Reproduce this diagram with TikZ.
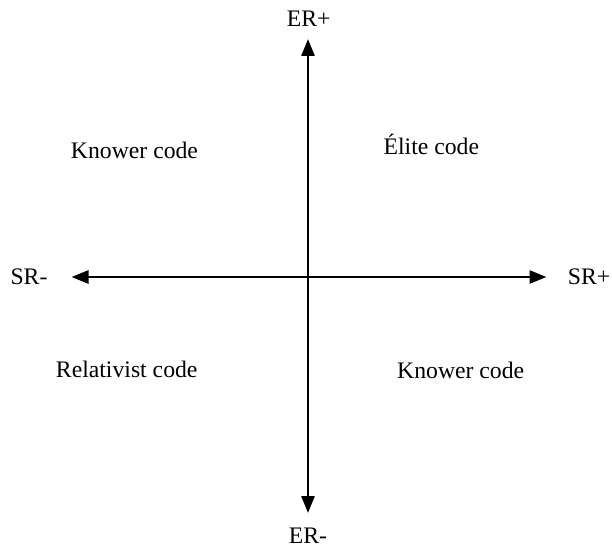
\documentclass[tikz,border=0pt]{standalone}
\usepackage{fontspec}
\setmainfont{Liberation Serif}
\usetikzlibrary{arrows.meta}
\tikzset{
  axis/.style={line width=2.7pt, {Triangle[length=17pt,width=13pt]}-{Triangle[length=17pt,width=13pt]}},
  lbl/.style={inner sep=0pt, anchor=base, font=\fontsize{23.7}{28}\selectfont}
}
\begin{document}
\begin{tikzpicture}[x=1pt,y=-1pt]
\useasboundingbox (0,0) rectangle (612,548);
\coordinate (top) at (308,39);
\coordinate (bottom) at (308,513);
\coordinate (left) at (71.5,277);
\coordinate (right) at (546.5,277);
\draw[axis] (bottom) -- (top);
\draw[axis] (left) -- (right);
\node[lbl] (erp) at (308.7,26.7) {ER+};
\node[lbl] (erm) at (308,543) {ER-};
\node[lbl] (srm) at (29,284.3) {SR-};
\node[lbl] (srp) at (589,284.3) {SR+};
\node[lbl] (kc1) at (134.5,158.3) {Knower code};
\node[lbl] (el) at (431.3,154.3) {Élite code};
\node[lbl] (rc) at (126.7,377.3) {Relativist code};
\node[lbl] (kc2) at (460.7,378.3) {Knower code};
\end{tikzpicture}
\end{document}
